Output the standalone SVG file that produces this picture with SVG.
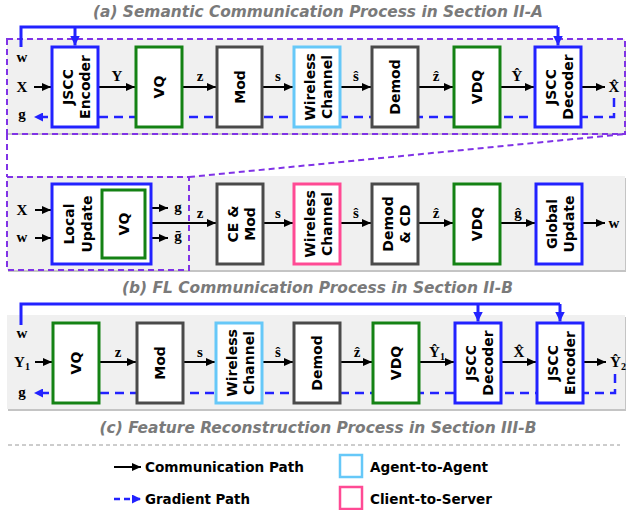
<svg xmlns="http://www.w3.org/2000/svg" width="628" height="510" viewBox="0 0 628 510">
<defs>
<style>
.title{font-family:"DejaVu Sans",Verdana,sans-serif;font-weight:bold;font-style:italic;font-size:16.5px;fill:#7a7a7a;text-anchor:middle}
.lbl{font-family:"DejaVu Sans",Verdana,sans-serif;font-weight:bold;font-size:14px;fill:#000;text-anchor:middle}
.m{font-family:"Liberation Serif","DejaVu Serif",serif;font-weight:bold;font-size:15px;fill:#000;text-anchor:middle}
.panel{fill:#f0f0f0}
.shadow{fill:#c4c4c4}
.box{fill:#fff;stroke-width:3}
.b{stroke:#2222ff}.g{stroke:#148214}.k{stroke:#4a4a4a}.c{stroke:#66c8f8}.p{stroke:#ff4a94}
.arr{stroke:#000;stroke-width:2;fill:none;marker-end:url(#ak)}
.grad{stroke:#2222ff;stroke-width:2.5;fill:none;stroke-dasharray:9 6;marker-end:url(#ab)}
.fb{stroke:#2222ff;stroke-width:3;fill:none}
.fba{stroke:#2222ff;stroke-width:3;fill:none;marker-end:url(#abd)}
.pur{stroke:#8033e6;stroke-width:2;fill:none;stroke-dasharray:6 4}
.leg{font-family:"DejaVu Sans",Verdana,sans-serif;font-weight:bold;font-size:14px;fill:#000}
</style>
<marker id="ak" markerUnits="userSpaceOnUse" markerWidth="9" markerHeight="8" refX="9" refY="4" orient="auto"><path d="M0,0 L9,4 L0,8 z" fill="#000"/></marker>
<marker id="ab" markerUnits="userSpaceOnUse" markerWidth="9" markerHeight="9" refX="9" refY="4.5" orient="auto"><path d="M0,0 L9,4.5 L0,9 z" fill="#2222ff"/></marker>
<marker id="abd" markerUnits="userSpaceOnUse" markerWidth="10" markerHeight="10" refX="10" refY="5" orient="auto"><path d="M0,0 L10,5 L0,10 z" fill="#2222ff"/></marker>
</defs>

<!-- titles -->
<text class="title" x="318" y="17" textLength="450" lengthAdjust="spacingAndGlyphs">(a) Semantic Communication Process in Section II-A</text>
<text class="title" x="317.5" y="293" textLength="391" lengthAdjust="spacingAndGlyphs">(b) FL Communication Process in Section II-B</text>
<text class="title" x="318" y="433" textLength="437" lengthAdjust="spacingAndGlyphs">(c) Feature Reconstruction Process in Section III-B</text>

<!-- panels -->
<g id="panels">
<rect class="shadow" x="8" y="41" width="618" height="94"/>
<rect class="panel" x="7" y="39" width="618" height="94"/>
<rect class="shadow" x="8" y="178" width="618" height="94"/>
<rect class="panel" x="7" y="176" width="618" height="94"/>
<rect class="shadow" x="8" y="317" width="618" height="94"/>
<rect class="panel" x="7" y="315" width="618" height="94"/>
</g>

<!-- purple zoom outline -->
<g id="zoom-outline">
<rect class="pur" x="7" y="39" width="618" height="95"/>
<path class="pur" d="M7,134 V177"/>
<rect class="pur" x="7" y="177" width="182" height="93"/>
<path class="pur" d="M189,177 L625,134"/>
</g>

<line x1="8" y1="445" x2="620" y2="445" stroke="#9a9a9a" stroke-width="1" stroke-dasharray="4 3"/>

<g id="connectors">
<!-- (a) -->
<path class="fb" d="M21,47 V27 H558"/>
<path class="fba" d="M558,27 V45.5"/>
<path class="fba" d="M75,27 V45.5"/>
<path class="grad" d="M614,98 V117 H34"/>
<path class="arr" d="M34,87 H51"/>
<path class="arr" d="M99,87 H135"/>
<path class="arr" d="M183,87 H216"/>
<path class="arr" d="M263,87 H293"/>
<path class="arr" d="M341,87 H371"/>
<path class="arr" d="M419,87 H453"/>
<path class="arr" d="M501,87 H534"/>
<path class="arr" d="M582,87 H605"/>
<!-- (b) -->
<path class="arr" d="M35,210 H51"/>
<path class="arr" d="M35,238 H51"/>
<path class="arr" d="M152,208 H168"/>
<path class="arr" d="M152,223 H216"/>
<path class="arr" d="M152,238 H168"/>
<path class="arr" d="M264,223 H293"/>
<path class="arr" d="M341,223 H371"/>
<path class="arr" d="M419,223 H453"/>
<path class="arr" d="M501,223 H535"/>
<path class="arr" d="M583,223 H605"/>
<!-- (c) -->
<path class="fb" d="M21,325 V304 H560"/>
<path class="fba" d="M560,304 V321.5"/>
<path class="fba" d="M478,304 V321.5"/>
<path class="grad" d="M615,374 V393 H34"/>
<path class="arr" d="M35,362 H52"/>
<path class="arr" d="M100,362 H136"/>
<path class="arr" d="M184,362 H215"/>
<path class="arr" d="M263,362 H293"/>
<path class="arr" d="M341,362 H372"/>
<path class="arr" d="M420,362 H454"/>
<path class="arr" d="M502,362 H536"/>
<path class="arr" d="M584,362 H606"/>
</g>

<!-- edge labels (a) -->
<g id="labels-a">
<text class="m" x="22" y="62">w</text>
<text class="m" x="22" y="92">X</text>
<text class="m" x="22" y="119">g</text>
<text class="m" x="117" y="81">Y</text>
<text class="m" x="200" y="81">z</text>
<text class="m" x="278" y="81">s</text>
<text class="m" x="356" y="81">ŝ</text>
<text class="m" x="436" y="81">ẑ</text>
<text class="m" x="517" y="81">Ŷ</text>
<text class="m" x="614" y="92">X̂</text>
</g>
<g id="labels-b">
<text class="m" x="22" y="215">X</text>
<text class="m" x="22" y="242">w</text>
<text class="m" x="178" y="212">g</text>
<text class="m" x="200" y="218">z</text>
<text class="m" x="178" y="241">ḡ</text>
<text class="m" x="278" y="218">s</text>
<text class="m" x="356" y="218">ŝ</text>
<text class="m" x="436" y="218">ẑ</text>
<text class="m" x="518" y="218">ĝ</text>
<text class="m" x="614" y="228">w</text>
</g>
<g id="labels-c">
<text class="m" x="22" y="338">w</text>
<text class="m" x="22" y="367">Y<tspan font-size="10" dy="3">1</tspan></text>
<text class="m" x="22" y="397">g</text>
<text class="m" x="118" y="357">z</text>
<text class="m" x="200" y="357">s</text>
<text class="m" x="278" y="357">ŝ</text>
<text class="m" x="357" y="357">ẑ</text>
<text class="m" x="437" y="357">Ŷ<tspan font-size="10" dy="3">1</tspan></text>
<text class="m" x="519" y="357">X̂</text>
<text class="m" x="618" y="367">Ŷ<tspan font-size="10" dy="3">2</tspan></text>
</g>

<!-- nodes (a) -->
<g id="a-jscc-encoder"><rect class="box b" x="52" y="47" width="46" height="80"/><text class="lbl" transform="translate(75,87) rotate(-90)"><tspan x="0" y="-2.5">JSCC</tspan><tspan x="0" y="14.5">Encoder</tspan></text></g>
<g id="a-vq"><rect class="box g" x="136" y="47" width="46" height="80"/><text class="lbl" transform="translate(159,87) rotate(-90)" y="5">VQ</text></g>
<g id="a-mod"><rect class="box k" x="217" y="47" width="45" height="80"/><text class="lbl" transform="translate(239.5,87) rotate(-90)" y="5">Mod</text></g>
<g id="a-wireless"><rect class="box c" x="294" y="47" width="46" height="80"/><text class="lbl" transform="translate(317,87) rotate(-90)"><tspan x="0" y="-2.5">Wireless</tspan><tspan x="0" y="14.5">Channel</tspan></text></g>
<g id="a-demod"><rect class="box k" x="372" y="47" width="46" height="80"/><text class="lbl" transform="translate(395,87) rotate(-90)" y="5">Demod</text></g>
<g id="a-vdq"><rect class="box g" x="454" y="47" width="46" height="80"/><text class="lbl" transform="translate(477,87) rotate(-90)" y="5">VDQ</text></g>
<g id="a-jscc-decoder"><rect class="box b" x="535" y="47" width="46" height="80"/><text class="lbl" transform="translate(558,87) rotate(-90)"><tspan x="0" y="-2.5">JSCC</tspan><tspan x="0" y="14.5">Decoder</tspan></text></g>

<!-- nodes (b) -->
<g id="b-local-update"><rect class="box b" x="52" y="184" width="99" height="80"/><text class="lbl" transform="translate(77,224) rotate(-90)"><tspan x="0" y="-3">Local</tspan><tspan x="0" y="14.5">Update</tspan></text>
<g id="b-vq"><rect class="box g" x="102" y="190" width="43" height="68"/><text class="lbl" transform="translate(123.5,224) rotate(-90)" y="5">VQ</text></g></g>
<g id="b-ce-mod"><rect class="box k" x="217" y="184" width="46" height="80"/><text class="lbl" transform="translate(240,224) rotate(-90)"><tspan x="0" y="-2.5">CE &amp;</tspan><tspan x="0" y="14.5">Mod</tspan></text></g>
<g id="b-wireless"><rect class="box p" x="294" y="184" width="46" height="80"/><text class="lbl" transform="translate(317,224) rotate(-90)"><tspan x="0" y="-2.5">Wireless</tspan><tspan x="0" y="14.5">Channel</tspan></text></g>
<g id="b-demod-cd"><rect class="box k" x="372" y="184" width="46" height="80"/><text class="lbl" transform="translate(395,224) rotate(-90)"><tspan x="0" y="-2.5">Demod</tspan><tspan x="0" y="14.5">&amp; CD</tspan></text></g>
<g id="b-vdq"><rect class="box g" x="454" y="184" width="46" height="80"/><text class="lbl" transform="translate(477,224) rotate(-90)" y="5">VDQ</text></g>
<g id="b-global-update"><rect class="box b" x="536" y="184" width="46" height="80"/><text class="lbl" transform="translate(559,224) rotate(-90)"><tspan x="0" y="-2.5">Global</tspan><tspan x="0" y="14.5">Update</tspan></text></g>

<!-- nodes (c) -->
<g id="c-vq"><rect class="box g" x="53" y="323" width="46" height="80"/><text class="lbl" transform="translate(76,363) rotate(-90)" y="5">VQ</text></g>
<g id="c-mod"><rect class="box k" x="137" y="323" width="46" height="80"/><text class="lbl" transform="translate(160,363) rotate(-90)" y="5">Mod</text></g>
<g id="c-wireless"><rect class="box c" x="216" y="323" width="46" height="80"/><text class="lbl" transform="translate(239,363) rotate(-90)"><tspan x="0" y="-2.5">Wireless</tspan><tspan x="0" y="14.5">Channel</tspan></text></g>
<g id="c-demod"><rect class="box k" x="294" y="323" width="46" height="80"/><text class="lbl" transform="translate(317,363) rotate(-90)" y="5">Demod</text></g>
<g id="c-vdq"><rect class="box g" x="373" y="323" width="46" height="80"/><text class="lbl" transform="translate(396,363) rotate(-90)" y="5">VDQ</text></g>
<g id="c-jscc-decoder"><rect class="box b" x="455" y="323" width="46" height="80"/><text class="lbl" transform="translate(478,363) rotate(-90)"><tspan x="0" y="-2.5">JSCC</tspan><tspan x="0" y="14.5">Decoder</tspan></text></g>
<g id="c-jscc-encoder"><rect class="box b" x="537" y="323" width="46" height="80"/><text class="lbl" transform="translate(560,363) rotate(-90)"><tspan x="0" y="-2.5">JSCC</tspan><tspan x="0" y="14.5">Encoder</tspan></text></g>

<!-- legend -->
<g id="legend">
<path class="arr" d="M114,467 H141"/>
<text class="leg" x="145" y="472" textLength="159" lengthAdjust="spacingAndGlyphs">Communication Path</text>
<path d="M114,499 H141" stroke="#2222ff" stroke-width="2.5" fill="none" stroke-dasharray="6 4" marker-end="url(#ab)"/>
<text class="leg" x="145" y="504" textLength="105" lengthAdjust="spacingAndGlyphs">Gradient Path</text>
<rect x="340" y="455" width="22" height="22" fill="#fff" stroke="#66c8f8" stroke-width="2.5"/>
<text class="leg" x="370" y="472" textLength="118" lengthAdjust="spacingAndGlyphs">Agent-to-Agent</text>
<rect x="340" y="487" width="22" height="22" fill="#fff" stroke="#ff4a94" stroke-width="2.5"/>
<text class="leg" x="370" y="504" textLength="122" lengthAdjust="spacingAndGlyphs">Client-to-Server</text>
</g>
</svg>
